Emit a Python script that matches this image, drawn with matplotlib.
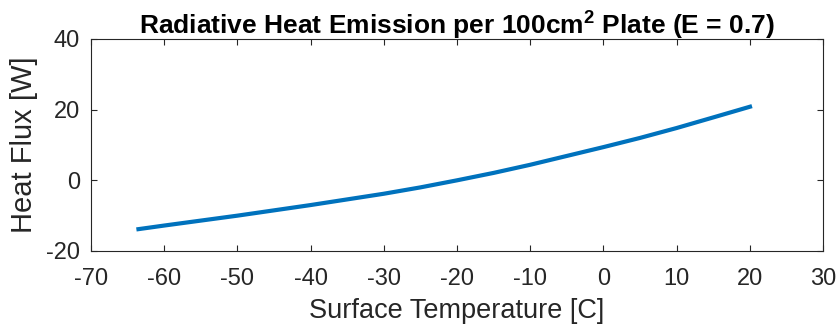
import matplotlib
matplotlib.use('Agg')
import matplotlib.pyplot as plt

plt.rcParams['font.family'] = ['Liberation Sans', 'DejaVu Sans']
plt.rcParams['axes.unicode_minus'] = False
plt.rcParams['mathtext.fontset'] = 'custom'
plt.rcParams['mathtext.bf'] = 'Liberation Sans:bold'

# surface temperature [C] and radiated heat flux [W]
temp = [-63.8, -60, -55, -50, -45, -40, -35, -30, -25, -20,
        -15, -10, -5, 0, 5, 10, 15, 20.3]
flux = [-13.9, -12.8, -11.4, -10.0, -8.5, -7.0, -5.4, -3.8, -2.0, 0.0,
        2.1, 4.4, 6.9, 9.4, 12.0, 14.8, 17.8, 21.0]

x_ticks = [-70, -60, -50, -40, -30, -20, -10, 0, 10, 20, 30]
y_ticks = [-20, 0, 20, 40]

axis_color = '#262626'

fig = plt.figure(figsize=(8.38, 3.28), dpi=100)
ax = fig.add_axes([0.1086, 0.2348, 0.8735, 0.6463])

ax.plot(temp, flux, color='#0072BD', linewidth=3, solid_capstyle='butt')

ax.set_xlim(-70, 30)
ax.set_ylim(-20, 40)
ax.set_xticks(x_ticks)
ax.set_yticks(y_ticks)
ax.tick_params(direction='in', length=4, width=0.8, colors=axis_color,
               labelsize=17, top=True, right=True)
ax.tick_params(axis='x', pad=12)
ax.tick_params(axis='y', pad=8)
for s in ax.spines.values():
    s.set_color(axis_color)
    s.set_linewidth(0.8)

ax.set_xlabel('Surface Temperature [C]', fontsize=19.5, color=axis_color, labelpad=6)
ax.set_ylabel('Heat Flux [W]', fontsize=21, color=axis_color, labelpad=6)
ax.set_title('Radiative Heat Emission per 100cm$^\\mathbf{2}$ Plate (E = 0.7)',
             fontsize=19, fontweight='bold', color='black', pad=4)

fig.savefig('out.png', dpi=100)
